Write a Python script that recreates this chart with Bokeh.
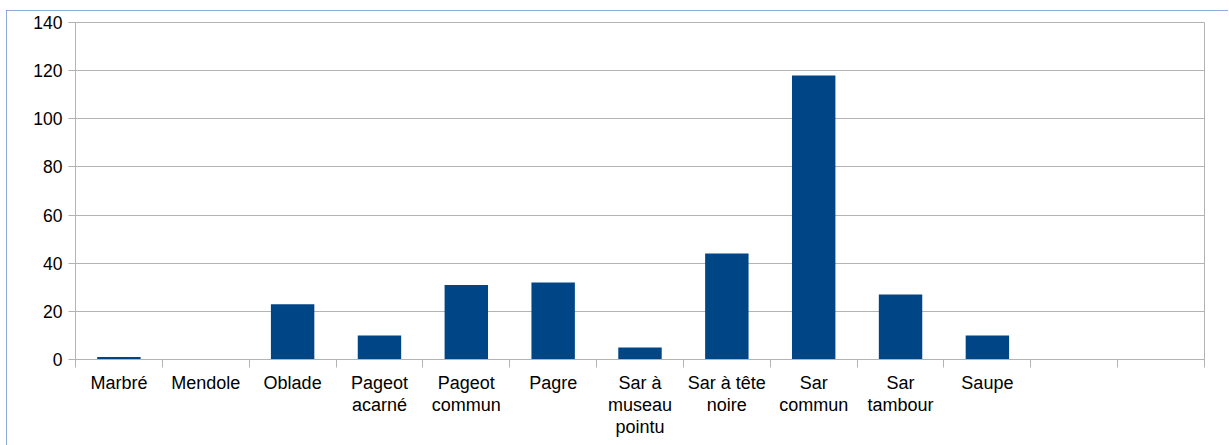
import math

from bokeh.embed import file_html
from bokeh.models import FixedTicker, LinearAxis, Range1d
from bokeh.plotting import figure
from bokeh.resources import INLINE

# Catch per species (two trailing empty slots are kept on the axis)
categories = [
    "Marbré", "Mendole", "Oblade", "Pageot\nacarné", "Pageot\ncommun",
    "Pagre", "Sar à\nmuseau\npointu", "Sar à tête\nnoire", "Sar\ncommun",
    "Sar\ntambour", "Saupe", "", "",
]
values = [1, 0, 23, 10, 31, 32, 5, 44, 118, 27, 10, math.nan, math.nan]
y_ticks = [0, 20, 40, 60, 80, 100, 120, 140]

BAR = "#004586"
GREY = "#b3b3b3"
FONT = "Liberation Sans"

n = len(categories)
centers = [i + 0.5 for i in range(n)]
bounds = list(range(n + 1))

p = figure(
    width=1222, height=435,
    x_range=Range1d(0, n), y_range=Range1d(0, 140),
    output_backend="svg", toolbar_location=None,
    x_axis_location=None, y_axis_location=None,
    min_border_left=69, min_border_right=24,
    min_border_top=12, min_border_bottom=86,
    margin=(10, 0, 0, 6),
    styles={"outline": "2px solid #6890cc", "outline-offset": "-2px"},
)
p.outline_line_color = GREY
p.outline_line_width = 1
p.background_fill_color = "white"
p.border_fill_color = "white"

p.vbar(x=centers, top=values, width=0.5, bottom=0,
       fill_color=BAR, line_color=None)

# value axis
yaxis = LinearAxis(ticker=FixedTicker(ticks=y_ticks))
yaxis.axis_line_color = GREY
yaxis.major_tick_line_color = GREY
yaxis.major_tick_out = 7
yaxis.major_tick_in = 0
yaxis.minor_tick_line_color = None
yaxis.major_label_standoff = 6
yaxis.major_label_text_font = FONT
yaxis.major_label_text_font_size = "17.5px"
yaxis.major_label_text_color = "#000000"
p.add_layout(yaxis, "left")

# category boundary ticks
xticks = LinearAxis(ticker=FixedTicker(ticks=bounds))
xticks.axis_line_color = GREY
xticks.major_tick_line_color = GREY
xticks.major_tick_out = 8
xticks.major_tick_in = 0
xticks.minor_tick_line_color = None
xticks.major_label_overrides = {b: "" for b in bounds}
xticks.major_label_standoff = 0
xticks.major_label_text_font_size = "1px"
p.add_layout(xticks, "below")

# category names
xlabels = LinearAxis(ticker=FixedTicker(ticks=centers))
xlabels.axis_line_color = None
xlabels.major_tick_line_color = None
xlabels.minor_tick_line_color = None
xlabels.major_tick_out = 0
xlabels.major_tick_in = 0
xlabels.major_label_overrides = {c: lab for c, lab in zip(centers, categories)}
xlabels.major_label_standoff = 5
xlabels.major_label_text_font = FONT
xlabels.major_label_text_font_size = "18px"
xlabels.major_label_text_line_height = 1.12
xlabels.major_label_text_color = "#000000"
p.add_layout(xlabels, "below")

p.xgrid.visible = False
p.ygrid.ticker = FixedTicker(ticks=y_ticks)
p.ygrid.grid_line_color = GREY
p.ygrid.grid_line_width = 1

open("out.html", "w").write(file_html(p, INLINE))
